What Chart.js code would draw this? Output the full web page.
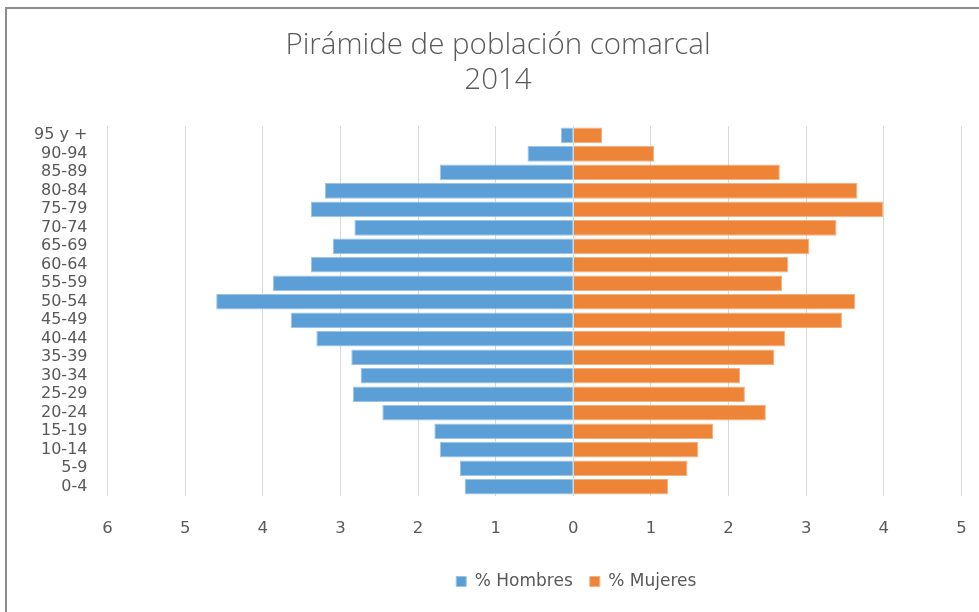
<!DOCTYPE html>
<html lang="es">
<head>
  <meta charset="UTF-8" />
  <title>Pirámide de población comarcal 2014</title>
  <script src="https://cdn.jsdelivr.net/npm/chart.js"></script>
  <style>
    html, body { margin: 0; padding: 0; background: #fff; overflow: hidden; }
    .marco {
      position: absolute; left: 5px; top: 7px;
      width: 1100px; height: 700px;
      border: 2px solid #8c8c8c;
    }
    .grafico { position: absolute; left: 0; top: 0; width: 979px; height: 612px; }
  </style>
</head>
<body>
  <div class="marco"></div>
  <div class="grafico"><canvas id="piramide"></canvas></div>

  <script>
    // Datos de la pirámide (de arriba abajo)
    const edades = ['95 y +', '90-94', '85-89', '80-84', '75-79', '70-74', '65-69', '60-64', '55-59', '50-54',
                    '45-49', '40-44', '35-39', '30-34', '25-29', '20-24', '15-19', '10-14', '5-9', '0-4'];
    const hombres = [0.16, 0.59, 1.72, 3.20, 3.38, 2.82, 3.10, 3.38, 3.87, 4.60,
                     3.64, 3.31, 2.86, 2.74, 2.84, 2.46, 1.79, 1.72, 1.46, 1.40];
    const mujeres = [0.37, 1.04, 2.66, 3.66, 3.99, 3.39, 3.04, 2.77, 2.69, 3.63,
                     3.46, 2.73, 2.59, 2.15, 2.21, 2.48, 1.80, 1.61, 1.47, 1.22];
    const titulo = ['Pirámide de población comarcal', '2014'];
    const ejeMin = -6, ejeMax = 5;

    const gris = '#595959';
    Chart.defaults.font.family = "'DejaVu Sans', sans-serif";
    Chart.defaults.color = gris;

    // centra la leyenda sobre el 0 del eje, como en el original
    const leyendaCentrada = {
      id: 'leyendaCentrada',
      afterLayout(chart) {
        const lg = chart.legend;
        if (!lg || !lg.lineWidths) return;
        const pad = lg.options.labels.padding;
        const start = lg.left + pad, end = lg.right - lg.lineWidths[0];
        const actual = (start + end) / 2 + (lg.lineWidths[0] - pad) / 2;
        const objetivo = chart.scales.x.getPixelForValue(0) + 3;
        const dx = objetivo - actual;
        lg.left += dx;
        lg.right += dx;
      }
    };

    new Chart(document.getElementById('piramide').getContext('2d'), {
      type: 'bar',
      data: {
        labels: edades,
        datasets: [{
          label: '% Hombres',
          data: hombres.map(v => -v),
          backgroundColor: '#5b9fd6',
          borderColor: '#9cc4e8',
          borderWidth: 1
        }, {
          label: '% Mujeres',
          data: mujeres,
          backgroundColor: '#ee8437',
          borderColor: '#f4b07f',
          borderWidth: 1
        }]
      },
      options: {
        indexAxis: 'y',
        responsive: true,
        maintainAspectRatio: false,
        animation: false,
        categoryPercentage: 1,
        barPercentage: 0.85,
        layout: { padding: { left: 34.5, right: 17.5, top: 0, bottom: 12 } },
        plugins: {
          title: {
            display: true,
            text: titulo,
            color: gris,
            font: { family: "'Open Sans', sans-serif", size: 29.5, weight: '300', lineHeight: 1.18 },
            padding: { top: 28.6, bottom: 27.8 }
          },
          legend: {
            position: 'bottom',
            labels: {
              boxWidth: 10,
              boxHeight: 10,
              padding: 17,
              color: gris,
              font: { size: 17 }
            }
          },
          tooltip: {
            callbacks: { label: ctx => `${ctx.dataset.label}: ${Math.abs(ctx.raw)}` }
          }
        },
        scales: {
          x: {
            stacked: true,
            min: ejeMin,
            max: ejeMax,
            ticks: {
              stepSize: 1,
              padding: 3,
              color: gris,
              font: { size: 16.5 },
              callback: v => Math.abs(v)
            },
            grid: { color: '#d9d9d9', drawTicks: true, tickLength: 20, tickColor: 'rgba(0,0,0,0)' },
            border: { display: false },
            afterFit: s => { s.height = 60; }
          },
          y: {
            stacked: true,
            ticks: { padding: 3, color: gris, font: { size: 16 }, autoSkip: false },
            grid: { display: false, drawTicks: true, tickLength: 17 },
            border: { display: false },
            afterFit: s => { s.width = 73; }
          }
        }
      },
      plugins: [leyendaCentrada]
    });
  </script>
</body>
</html>
